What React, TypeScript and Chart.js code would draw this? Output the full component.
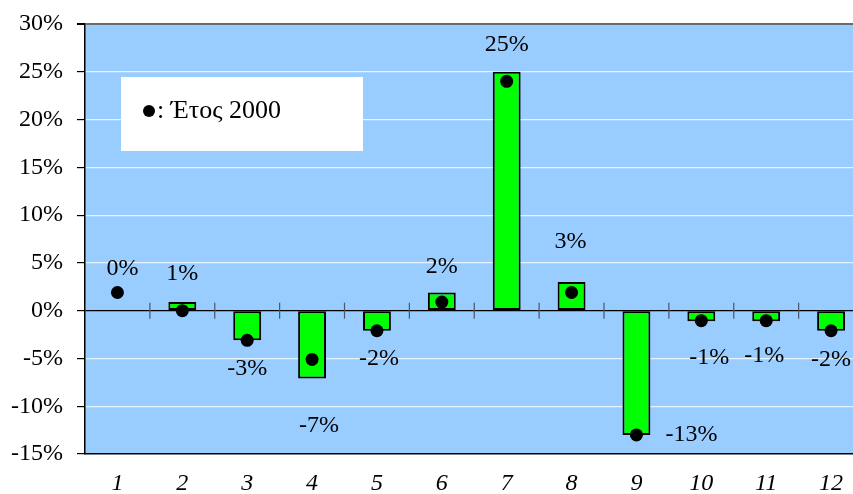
import React, { useEffect, useRef } from "react";
import { Chart, registerables } from "chart.js";

Chart.register(...registerables);

const categories = ["1", "2", "3", "4", "5", "6", "7", "8", "9", "10", "11", "12"];
const barValues = [0, 0.9, -3.1, -7.1, -2.1, 1.9, 25.0, 3.0, -13.0, -1.1, -1.1, -2.1];
const year2000Values = [1.9, 0, -3.1, -5.1, -2.1, 0.9, 24.0, 1.9, -13.0, -1.05, -1.05, -2.1];
const labelTexts = ["0%", "1%", "-3%", "-7%", "-2%", "2%", "25%", "3%", "-13%", "-1%", "-1%", "-2%"];
const legendText = ": Έτος 2000";
const yMin = -15;
const yMax = 30;
const yStep = 5;

// label offsets (px) relative to the end of each bar
const labelShift: [number, number][] = [
  [5, -42], [0, -28], [0, 28], [7, 47], [2, 28], [0, -26],
  [0, -27], [-1, -40], [55, 0], [8, 37], [-2, 35], [0, 29],
];

const FONT = '"Liberation Serif", "Times New Roman", Times, serif';

const customPlugin = {
  id: "custom",
  beforeDraw(chart: any) {
    const { ctx, chartArea } = chart;
    ctx.save();
    ctx.fillStyle = "#99CCFF";
    ctx.fillRect(chartArea.left, chartArea.top, chartArea.right - chartArea.left, chartArea.bottom - chartArea.top);
    ctx.restore();
  },
  beforeDatasetsDraw(chart: any) {
    const { ctx, chartArea, scales } = chart;
    const x = scales.x;
    const y = scales.y;
    ctx.save();
    // legend box
    const bx = chartArea.left + 36;
    const by = chartArea.top + 53;
    ctx.fillStyle = "#ffffff";
    ctx.fillRect(bx, by, 242, 74);
    ctx.fillStyle = "#000";
    ctx.beginPath();
    ctx.arc(bx + 28, by + 34, 6, 0, Math.PI * 2);
    ctx.fill();
    ctx.font = `26px ${FONT}`;
    ctx.textBaseline = "middle";
    ctx.textAlign = "left";
    ctx.fillText(legendText, bx + 36, by + 34);
    // category boundary ticks on zero line
    const y0 = y.getPixelForValue(0);
    ctx.strokeStyle = "#4a5568";
    ctx.lineWidth = 1.2;
    for (let i = 0; i < categories.length - 1; i++) {
      const px = (x.getPixelForValue(i) + x.getPixelForValue(i + 1)) / 2;
      ctx.beginPath();
      ctx.moveTo(px, y0 - 8);
      ctx.lineTo(px, y0 + 8);
      ctx.stroke();
    }
    ctx.restore();
  },
  afterDatasetsDraw(chart: any) {
    const { ctx } = chart;
    const meta = chart.getDatasetMeta(1);
    ctx.save();
    ctx.font = `24px ${FONT}`;
    ctx.fillStyle = "#000";
    ctx.textAlign = "center";
    ctx.textBaseline = "middle";
    meta.data.forEach((el: any, i: number) => {
      const [dx, dy] = labelShift[i];
      ctx.fillText(labelTexts[i], el.x + dx, el.y + dy);
    });
    ctx.restore();
  },
};

export default function App() {
  const ref = useRef<HTMLCanvasElement>(null);
  useEffect(() => {
    document.body.style.margin = "0";
    let chart: any = null;
    let cancelled = false;
    const make = () => {
      if (cancelled || !ref.current) return;
      chart = new Chart(ref.current, {
        type: "bar",
        data: {
          labels: categories,
          datasets: [
            {
              type: "line",
              label: "Έτος 2000",
              data: year2000Values,
              showLine: false,
              pointRadius: 6.5,
              pointBackgroundColor: "#000",
              pointBorderColor: "#000",
              pointBorderWidth: 0,
              order: 0,
            } as any,
            {
              type: "bar",
              label: "values",
              data: barValues,
              backgroundColor: "#00FF00",
              borderColor: "#000",
              borderWidth: 2,
              borderSkipped: false,
              barPercentage: 0.43,
              categoryPercentage: 1,
              order: 1,
            },
          ],
        },
        options: {
          responsive: false,
          animation: false,
          layout: { padding: { top: 24, right: 5, left: 0, bottom: 0 } },
          plugins: { legend: { display: false }, tooltip: { enabled: false } },
          scales: {
            x: {
              grid: { display: false, drawTicks: false },
              border: { color: "#000", width: 1.5 },
              ticks: {
                color: "#000",
                font: { family: FONT, size: 24, style: "italic" },
                padding: 15,
                maxRotation: 0,
              },
              afterFit: (s: any) => {
                s.height = 40;
                s.paddingLeft = 0;
                s.paddingRight = 0;
              },
            },
            y: {
              min: yMin,
              max: yMax,
              ticks: {
                stepSize: yStep,
                color: "#000",
                font: { family: FONT, size: 24 },
                padding: 14,
                callback: (v: any) => `${v}%`,
              },
              grid: {
                color: (c: any) =>
                  c.tick && c.tick.value === 0 ? "#000" : c.tick && c.tick.value === yMax ? "#6b6b6b" : "rgba(255,255,255,0.75)",
                lineWidth: (c: any) => (c.tick && c.tick.value === yMax ? 2 : 1.2),
                tickColor: "#000",
                tickLength: 8,
              },
              border: { color: "#000", width: 1.5 },
              afterFit: (s: any) => {
                s.width = 85;
                s.paddingTop = 0;
                s.paddingBottom = 0;
              },
            },
          },
        },
        plugins: [customPlugin],
      });
    };
    const fonts: any = (document as any).fonts;
    if (fonts && fonts.load) {
      Promise.all([
        fonts.load('24px "Liberation Serif"'),
        fonts.load('italic 24px "Liberation Serif"'),
      ]).then(make, make);
    } else {
      make();
    }
    return () => {
      cancelled = true;
      if (chart) chart.destroy();
    };
  }, []);
  return (
    <div style={{ width: 853, height: 494, overflow: "hidden", background: "#fff" }}>
      <span style={{ position: "absolute", left: -9999, fontFamily: '"Liberation Serif"' }}>
        0 <i>1</i>
      </span>
      <canvas ref={ref} width={870} height={494} style={{ display: "block" }} />
    </div>
  );
}
